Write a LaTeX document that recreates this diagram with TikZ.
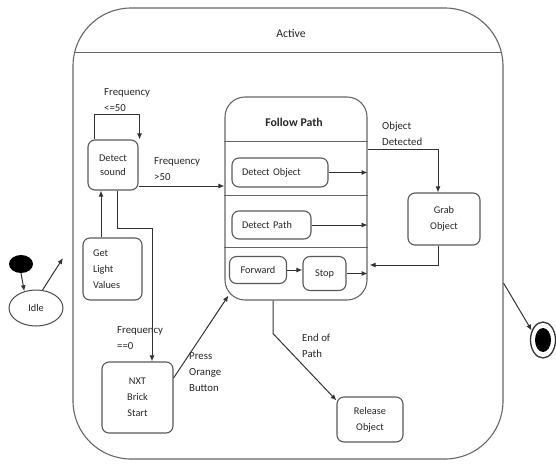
\documentclass[tikz,border=0pt]{standalone}
\usepackage{fontspec}
\setmainfont{Carlito}
\usetikzlibrary{arrows.meta,calc,shapes.geometric}
\begin{document}
\begin{tikzpicture}[x=1pt,y=-1pt,
  every node/.style={font=\fontsize{10.3}{16}\selectfont, text=black!85},
  box/.style={draw=black!65, line width=1.1pt, rounded corners=7pt, inner sep=0pt, align=center},
  leftbox/.style={box, align=left, inner xsep=10pt},
  arr/.style={draw=black!80, line width=1pt, -{Latex[length=6pt,width=5pt]}},
  lbl/.style={align=left, anchor=north west, inner sep=0pt, font=\fontsize{10.8}{16}\selectfont},
  frame/.style={draw=black!60, line width=1.1pt},
]
\useasboundingbox (0,0) rectangle (556,463);

% composite state Active
\node[frame, rounded corners=58pt, minimum width=430pt, minimum height=451pt] (active) at (288,233.5) {};
\draw[frame] ($(active.north west)+(1.5,45)$) -- ($(active.north east)+(-1.5,45)$);
\node[font=\fontsize{11.8}{13}\selectfont] (activetitle) at (291,33) {Active};

% composite state Follow Path with three regions
\node[frame, rounded corners=20pt, minimum width=142pt, minimum height=203pt] (fp) at (296,198.5) {};
\node[font=\bfseries\fontsize{11.8}{13}\selectfont] (fptitle) at (294,122) {Follow Path};
\draw[frame] ($(fp.north west)+(0,45)$) -- ($(fp.north east)+(0,45)$);
\draw[frame] ($(fp.north west)+(0,99)$) -- ($(fp.north east)+(0,99)$);
\draw[frame] ($(fp.north west)+(0,151)$) -- ($(fp.north east)+(0,151)$);

\node[leftbox, minimum width=96pt, minimum height=29pt, text width=76pt] (do) at (280,172.5) {Detect Object};
\node[leftbox, minimum width=79pt, minimum height=28pt, text width=59pt] (dp) at (271.5,225) {Detect Path};
\node[box, minimum width=57pt, minimum height=27pt] (fw) at (258,270) {Forward};
\node[box, minimum width=43pt, minimum height=34pt] (st) at (324.5,273.5) {Stop};

% simple states
\node[box, minimum width=50pt, minimum height=50pt, font=\fontsize{10.3}{14}\selectfont] (ds) at (113,165) {Detect\\sound};
\node[leftbox, minimum width=59pt, minimum height=62pt, text width=39pt] (gl) at (112.5,269) {Get\\Light\\Values};
\node[box, minimum width=71pt, minimum height=71pt] (nxt) at (137.5,397.5) {NXT\\Brick\\Start};
\node[box, minimum width=72pt, minimum height=52pt] (grab) at (444,219) {Grab\\Object};
\node[box, minimum width=66pt, minimum height=45pt] (rel) at (370,419.5) {Release\\Object};

% pseudo states
\node[fill=black, ellipse, minimum width=24pt, minimum height=18pt, inner sep=0pt] (init) at (21,264) {};
\node[draw=black!70, line width=1pt, ellipse, minimum width=54pt, minimum height=36pt, inner sep=0pt] (idle) at (36,308) {Idle};
\node[draw=black!80, line width=1.3pt, ellipse, minimum width=25pt, minimum height=36pt, inner sep=0pt] (fin) at (543,340) {};
\node[fill=black, ellipse, minimum width=16pt, minimum height=24pt, inner sep=0pt] (finc) at (fin) {};
\coordinate (idleout) at (63,258);

% attachment points on the state borders
\coordinate (dsout) at ($(ds.east)+(0,21)$);
\coordinate (glout) at ($(gl.north)+(-11.5,0)$);
\coordinate (dsdown) at ($(ds.south)+(4,0)$);
\coordinate (nxtin) at ($(nxt.north)+(14.5,0)$);
\coordinate (nxtout) at ($(nxt.east)+(0,-19.5)$);
\coordinate (fpcorner) at ($(fp.south west)+(4,-5)$);
\coordinate (fpobj) at ($(fp.north east)+(0,53)$);
\coordinate (grabin) at ($(grab.north)+(-6,0)$);
\coordinate (grabout) at ($(grab.south)+(-6,0)$);
\coordinate (fpback) at ($(fp.east)+(2,66.5)$);
\coordinate (fpend) at ($(fp.south)+(-23,0)$);
\coordinate (relin) at ($(rel.north west)+(0,4)$);
\coordinate (activeout) at ($(active.east)+(0,49.5)$);

% transition labels
\node[lbl] (l1) at (104,88) {Frequency\\<=50};
\node[lbl] (l2) at (154,157) {Frequency\\>50};
\node[lbl] (l3) at (382,122) {Object\\Detected};
\node[lbl] (l4) at (117,326) {Frequency\\==0};
\node[lbl] (l5) at (189,352) {Press\\Orange\\Button};
\node[lbl] (l6) at (302,334) {End of\\Path};

% transitions
\draw[arr] (init.south) -- (idle.125);
\draw[arr] (idle.70) -- (idleout);
\draw[arr] ($(ds.north west)+(7,0)$) -- ++(0,-25) -| ($(ds.north east)+(1,0)$);
\draw[arr] (dsout) -- (dsout -| fp.west);
\draw[arr] (glout) -- (glout |- ds.south);
\draw[arr] (dsdown) -- ++(0,38) -| (nxtin);
\draw[arr] (nxtout) -- (fpcorner);
\draw[arr] (fpobj) -| (grabin);
\draw[arr] (grabout) |- (fpback);
\draw[arr] (do.east) -- (do.east -| fp.east);
\draw[arr] (dp.east) -- (dp.east -| fp.east);
\draw[arr] (fw.east) -- (fw.east -| st.west);
\draw[arr] (st.east) -- (st.east -| fp.east);
\draw[arr] (fpend) -- ++(0,33) -- (relin);
\draw[arr] (activeout) -- (fin.140);
\end{tikzpicture}
\end{document}
